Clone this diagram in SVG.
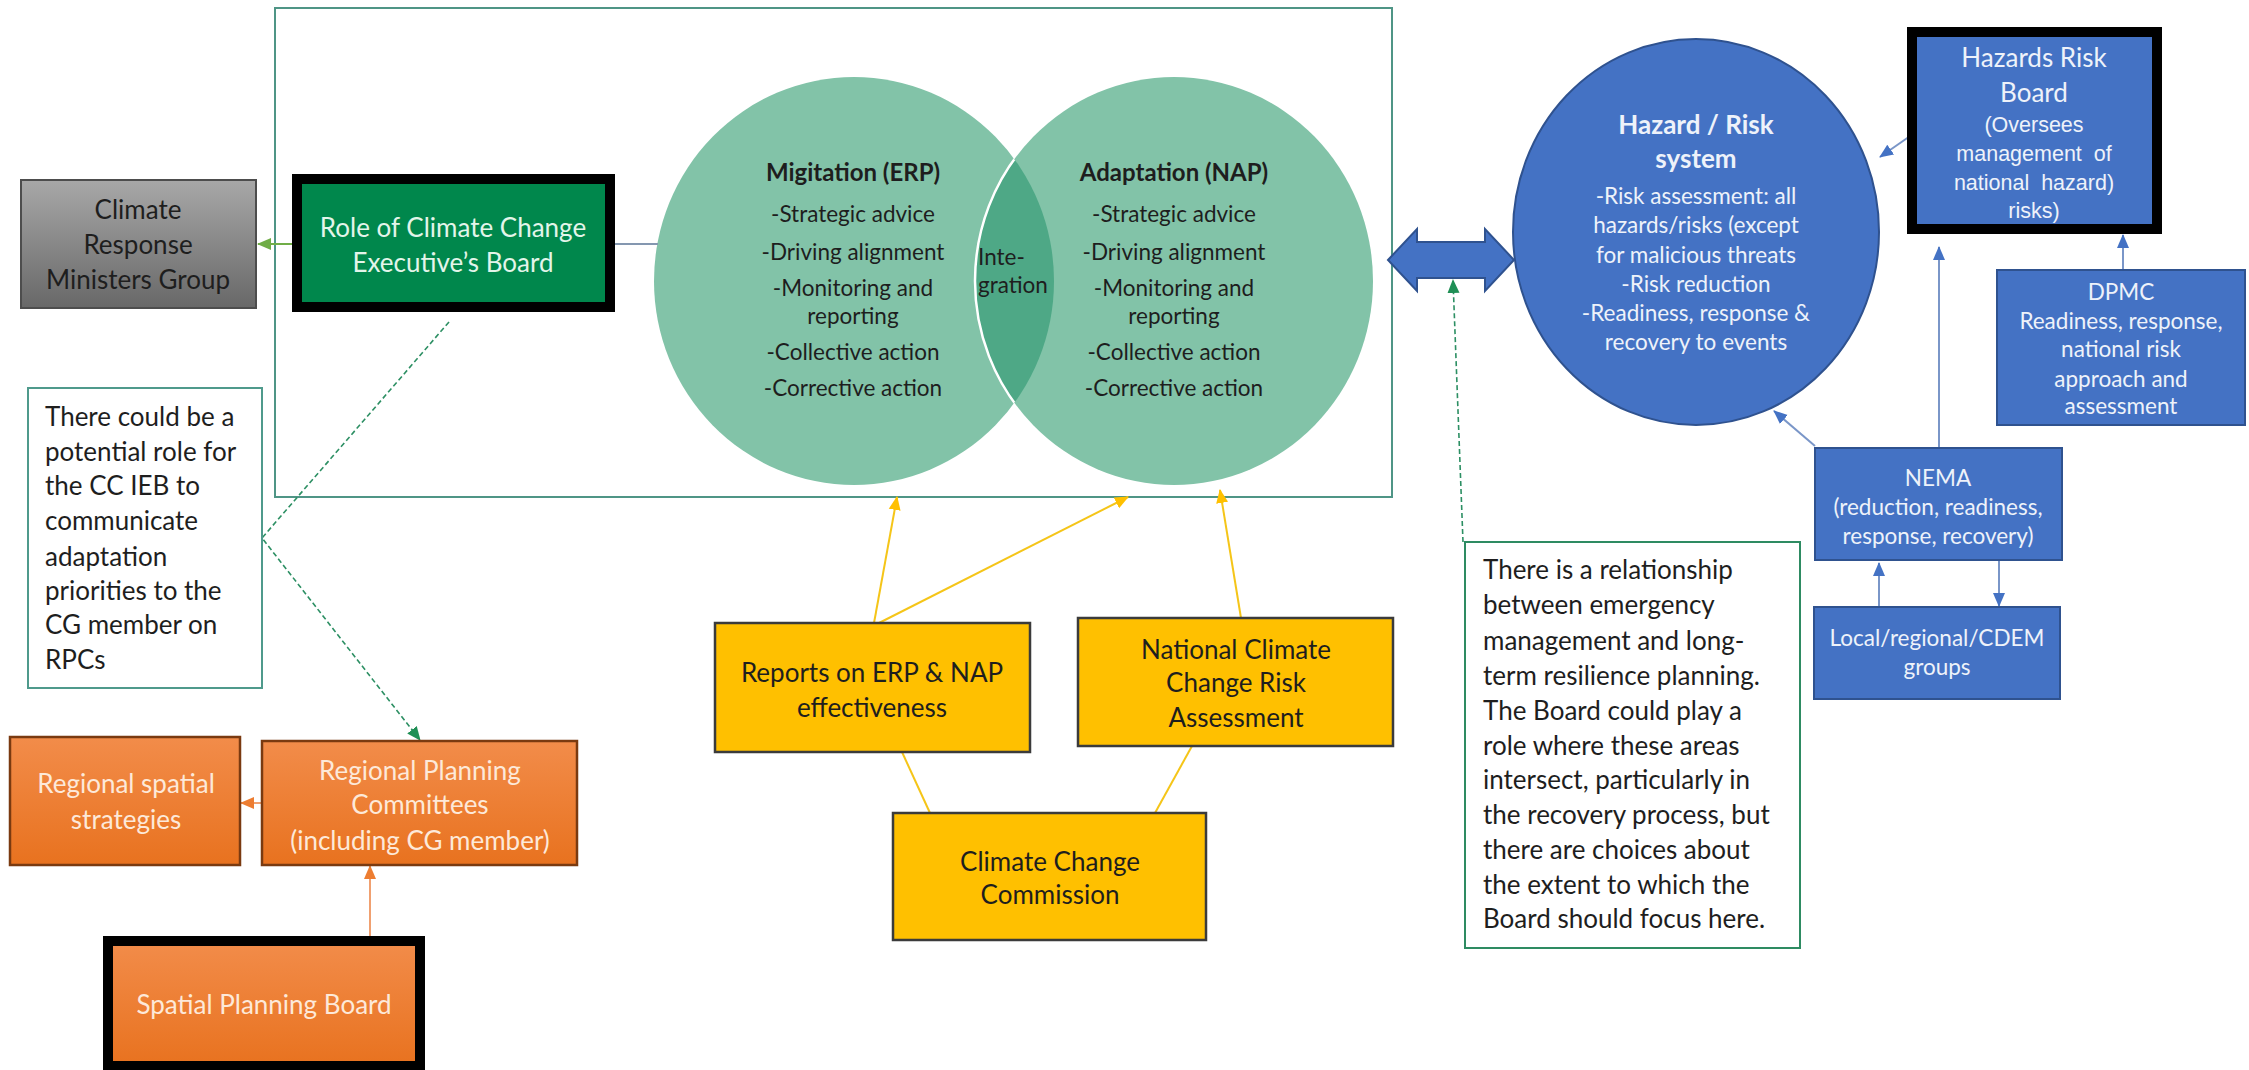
<svg xmlns="http://www.w3.org/2000/svg" width="2249" height="1070" viewBox="0 0 2249 1070">
<style>
text{font-family:Lato,"Open Sans","DejaVu Sans",sans-serif;text-anchor:middle}
.t28{font-size:26px}
.t24{font-size:22.5px}
.b{font-weight:bold}
.dark{fill:#1e1e1e}
.light{fill:#f2f2f2}
.ow{fill:#fde9d9}
.bw{fill:#eef2fa}
.gw{fill:#e3f5ea}
.lft{text-anchor:start}
.arial{font-family:"Liberation Sans",Arial,sans-serif;font-size:21.5px}
.blue{fill:#4472c4;stroke:#2f528f;stroke-width:2}
.yel{fill:#ffc000;stroke:#3b3b3b;stroke-width:2.5}
.org{fill:url(#og);stroke:#7a3a10;stroke-width:2.5}
.note{fill:#fff;stroke-width:2}
.yl{stroke:#f5c518;stroke-width:2;fill:none}
.bl{stroke:#7a96c8;stroke-width:2;fill:none}
.ol{stroke:#f0a070;stroke-width:2;fill:none}
.dg{stroke:#2c8f63;stroke-width:1.6;stroke-dasharray:5 3;fill:none}
</style>
<defs>
<linearGradient id="gg" x1="0" y1="0" x2="0" y2="1"><stop offset="0" stop-color="#a8a8a8"/><stop offset="1" stop-color="#686868"/></linearGradient>
<linearGradient id="og" x1="0" y1="0" x2="0" y2="1"><stop offset="0" stop-color="#f28c4a"/><stop offset="1" stop-color="#e8721f"/></linearGradient>
<clipPath id="leftClip"><ellipse cx="854" cy="281" rx="200" ry="204"/></clipPath>
<marker id="ay" markerUnits="userSpaceOnUse" markerWidth="14" markerHeight="14" refX="13" refY="7" orient="auto"><path d="M0,1 L14,7 L0,13 z" fill="#ffc000"/></marker>
<marker id="ab" markerUnits="userSpaceOnUse" markerWidth="14" markerHeight="14" refX="13" refY="7" orient="auto"><path d="M0,1 L14,7 L0,13 z" fill="#4472c4"/></marker>
<marker id="ao" markerUnits="userSpaceOnUse" markerWidth="14" markerHeight="14" refX="13" refY="7" orient="auto"><path d="M0,1 L14,7 L0,13 z" fill="#ed7d31"/></marker>
<marker id="ag" markerUnits="userSpaceOnUse" markerWidth="14" markerHeight="14" refX="13" refY="7" orient="auto"><path d="M0,1 L14,7 L0,13 z" fill="#1f8f55"/></marker>
<marker id="alg" markerUnits="userSpaceOnUse" markerWidth="14" markerHeight="14" refX="13" refY="7" orient="auto"><path d="M0,1 L14,7 L0,13 z" fill="#70ad47"/></marker>
</defs>
<rect width="2249" height="1070" fill="#fff"/>

<g id="frame"><rect x="275" y="8" width="1117" height="489" fill="none" stroke="#4f9586" stroke-width="2"/></g>

<g id="venn">
<ellipse cx="854" cy="281" rx="200" ry="204" fill="#82c3a8"/>
<ellipse cx="1174" cy="281" rx="199" ry="204" fill="#82c3a8"/>
<ellipse cx="1174" cy="281" rx="199" ry="204" fill="#4ea886" clip-path="url(#leftClip)"/>
<ellipse cx="1174" cy="281" rx="199" ry="204" fill="none" stroke="#fff" stroke-width="2.5" clip-path="url(#leftClip)"/>
<g id="mitigation">
<text x="853" y="181" class="t24 b dark" style="font-size:24px">Migitation (ERP)</text>
<text x="853" y="222" class="t24 dark">-Strategic advice</text>
<text x="853" y="260" class="t24 dark">-Driving alignment</text>
<text x="853" y="296" class="t24 dark">-Monitoring and</text>
<text x="853" y="324" class="t24 dark">reporting</text>
<text x="853" y="360" class="t24 dark">-Collective action</text>
<text x="853" y="396" class="t24 dark">-Corrective action</text>
</g>
<g id="adaptation">
<text x="1174" y="181" class="t24 b dark" style="font-size:24px">Adaptation (NAP)</text>
<text x="1174" y="222" class="t24 dark">-Strategic advice</text>
<text x="1174" y="260" class="t24 dark">-Driving alignment</text>
<text x="1174" y="296" class="t24 dark">-Monitoring and</text>
<text x="1174" y="324" class="t24 dark">reporting</text>
<text x="1174" y="360" class="t24 dark">-Collective action</text>
<text x="1174" y="396" class="t24 dark">-Corrective action</text>
</g>
<g id="integration">
<text x="978" y="265" class="t24 dark lft">Inte-</text>
<text x="978" y="293" class="t24 dark lft">gration</text>
</g>
</g>

<g id="connectors">
<line x1="292" y1="244" x2="258" y2="244" stroke="#70ad47" stroke-width="2" marker-end="url(#alg)"/>
<line x1="615" y1="244" x2="658" y2="244" stroke="#8497b0" stroke-width="2"/>
<polyline points="449,322 262,538 420,740" class="dg" marker-end="url(#ag)"/>
<line x1="1463" y1="542" x2="1453" y2="280" class="dg" marker-end="url(#ag)"/>
<line x1="874" y1="623" x2="897" y2="497" class="yl" marker-end="url(#ay)"/>
<line x1="879" y1="623" x2="1128" y2="497" class="yl" marker-end="url(#ay)"/>
<line x1="1241" y1="618" x2="1220" y2="490" class="yl" marker-end="url(#ay)"/>
<line x1="930" y1="813" x2="902" y2="752" class="yl"/>
<line x1="1155" y1="813" x2="1192" y2="746" class="yl"/>
<line x1="262" y1="803" x2="241" y2="803" class="ol" marker-end="url(#ao)"/>
<line x1="370" y1="936" x2="370" y2="866" class="ol" marker-end="url(#ao)"/>
<line x1="1913" y1="134" x2="1880" y2="157" class="bl" marker-end="url(#ab)"/>
<line x1="1815" y1="446" x2="1774" y2="411" class="bl" marker-end="url(#ab)"/>
<line x1="1939" y1="448" x2="1939" y2="247" class="bl" marker-end="url(#ab)"/>
<line x1="2123" y1="270" x2="2123" y2="235" class="bl" marker-end="url(#ab)"/>
<line x1="1879" y1="607" x2="1879" y2="563" class="bl" marker-end="url(#ab)"/>
<line x1="1999" y1="561" x2="1999" y2="606" class="bl" marker-end="url(#ab)"/>
<polygon id="double-arrow" points="1388,260 1417,229 1417,242 1485,242 1485,229 1514,260 1485,291 1485,278 1417,278 1417,291" class="blue"/>
</g>

<g id="crmg">
<rect x="21" y="180" width="235" height="128" fill="url(#gg)" stroke="#4d4d4d" stroke-width="2"/>
<text x="138" y="219" class="t28 dark">Climate</text>
<text x="138" y="254" class="t28 dark">Response</text>
<text x="138" y="289" class="t28 dark">Ministers Group</text>
</g>

<g id="cceb">
<rect x="297" y="179" width="313" height="128" fill="#00874c" stroke="#000" stroke-width="10"/>
<text x="453" y="237" class="t28 gw">Role of Climate Change</text>
<text x="453" y="272" class="t28 gw">Executive’s Board</text>
</g>

<g id="note-ccieb">
<rect x="28" y="388" width="234" height="300" class="note" stroke="#4f9a8c"/>
<text x="45" y="426" class="t28 dark lft">There could be a</text>
<text x="45" y="461" class="t28 dark lft">potential role for</text>
<text x="45" y="495" class="t28 dark lft">the CC IEB to</text>
<text x="45" y="530" class="t28 dark lft">communicate</text>
<text x="45" y="566" class="t28 dark lft">adaptation</text>
<text x="45" y="600" class="t28 dark lft">priorities to the</text>
<text x="45" y="634" class="t28 dark lft">CG member on</text>
<text x="45" y="669" class="t28 dark lft">RPCs</text>
</g>

<g id="rss">
<rect x="10" y="737" width="230" height="128" class="org"/>
<text x="126" y="793" class="t28 ow">Regional spatial</text>
<text x="126" y="829" class="t28 ow">strategies</text>
</g>

<g id="rpc">
<rect x="262" y="741" width="315" height="124" class="org"/>
<text x="420" y="780" class="t28 ow">Regional Planning</text>
<text x="420" y="814" class="t28 ow">Committees</text>
<text x="420" y="850" class="t28 ow">(including CG member)</text>
</g>

<g id="spb">
<rect x="108" y="941" width="312" height="125" fill="url(#og)" stroke="#000" stroke-width="10"/>
<text x="264" y="1014" class="t28 ow">Spatial Planning Board</text>
</g>

<g id="reports">
<rect x="715" y="623" width="315" height="129" class="yel"/>
<text x="872" y="682" class="t28 dark">Reports on ERP &amp; NAP</text>
<text x="872" y="717" class="t28 dark">effectiveness</text>
</g>

<g id="nccra">
<rect x="1078" y="618" width="315" height="128" class="yel"/>
<text x="1236" y="659" class="t28 dark">National Climate</text>
<text x="1236" y="692" class="t28 dark">Change Risk</text>
<text x="1236" y="727" class="t28 dark">Assessment</text>
</g>

<g id="ccc">
<rect x="893" y="813" width="313" height="127" class="yel"/>
<text x="1050" y="871" class="t28 dark">Climate Change</text>
<text x="1050" y="904" class="t28 dark">Commission</text>
</g>

<g id="hazard-system">
<ellipse cx="1696" cy="232" rx="183" ry="193" class="blue"/>
<text x="1696" y="134" class="t28 b bw">Hazard / Risk</text>
<text x="1696" y="168" class="t28 b bw">system</text>
<text x="1696" y="204" class="t24 bw">-Risk assessment: all</text>
<text x="1696" y="233" class="t24 bw">hazards/risks (except</text>
<text x="1696" y="263" class="t24 bw">for malicious threats</text>
<text x="1696" y="292" class="t24 bw">-Risk reduction</text>
<text x="1696" y="321" class="t24 bw">-Readiness, response &amp;</text>
<text x="1696" y="350" class="t24 bw">recovery to events</text>
</g>

<g id="hrb">
<rect x="1912" y="32" width="245" height="197" fill="#4472c4" stroke="#000" stroke-width="10"/>
<text x="2034" y="67" class="t28 bw">Hazards Risk</text>
<text x="2034" y="102" class="t28 bw">Board</text>
<text x="2034" y="132" class="arial bw">(Oversees</text>
<text x="2034" y="161" class="arial bw" xml:space="preserve">management  of</text>
<text x="2034" y="190" class="arial bw" xml:space="preserve">national  hazard)</text>
<text x="2034" y="218" class="arial bw">risks)</text>
</g>

<g id="dpmc">
<rect x="1997" y="270" width="248" height="155" class="blue"/>
<text x="2121" y="300" class="t24 bw">DPMC</text>
<text x="2121" y="329" class="t24 bw">Readiness, response,</text>
<text x="2121" y="357" class="t24 bw">national risk</text>
<text x="2121" y="387" class="t24 bw">approach and</text>
<text x="2121" y="414" class="t24 bw">assessment</text>
</g>

<g id="nema">
<rect x="1815" y="448" width="247" height="112" class="blue"/>
<text x="1938" y="486" class="t24 bw">NEMA</text>
<text x="1938" y="515" class="t24 bw">(reduction, readiness,</text>
<text x="1938" y="544" class="t24 bw">response, recovery)</text>
</g>

<g id="local">
<rect x="1814" y="607" width="246" height="92" class="blue"/>
<text x="1937" y="646" class="t24 bw">Local/regional/CDEM</text>
<text x="1937" y="675" class="t24 bw">groups</text>
</g>

<g id="note-emergency">
<rect x="1465" y="542" width="335" height="406" class="note" stroke="#2e8b62"/>
<text x="1483" y="579" class="t28 dark lft">There is a relationship</text>
<text x="1483" y="614" class="t28 dark lft">between emergency</text>
<text x="1483" y="650" class="t28 dark lft">management and long-</text>
<text x="1483" y="685" class="t28 dark lft">term resilience planning.</text>
<text x="1483" y="720" class="t28 dark lft">The Board could play a</text>
<text x="1483" y="755" class="t28 dark lft">role where these areas</text>
<text x="1483" y="789" class="t28 dark lft">intersect, particularly in</text>
<text x="1483" y="824" class="t28 dark lft">the recovery process, but</text>
<text x="1483" y="859" class="t28 dark lft">there are choices about</text>
<text x="1483" y="894" class="t28 dark lft">the extent to which the</text>
<text x="1483" y="928" class="t28 dark lft">Board should focus here.</text>
</g>
</svg>
